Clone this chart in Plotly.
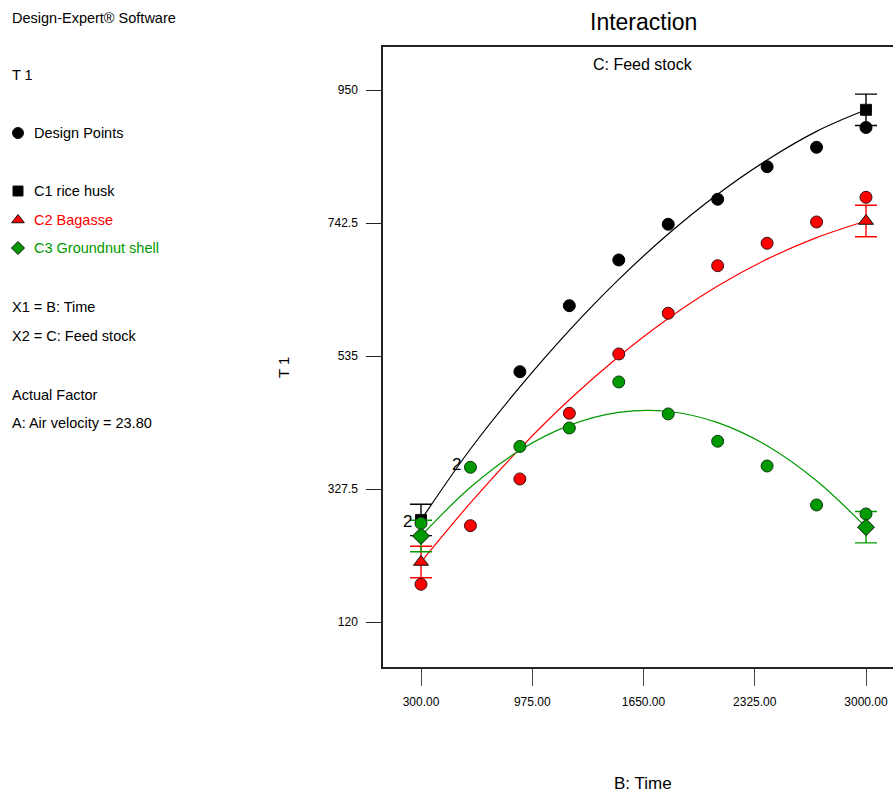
import plotly.graph_objects as go

# ---- data -------------------------------------------------------------
time_levels = [300, 600, 900, 1200, 1500, 1800, 2100, 2400, 2700, 3000]

# design points (T 1) per feed stock
rice_husk_x = [900, 1200, 1500, 1800, 2100, 2400, 2700, 3000]
rice_husk_pts = [510.5, 613.5, 684.8, 740.5, 779.5, 830.3, 860.6, 891.5]
bagasse_pts = [178.9, 270.3, 343.2, 445.7, 538.2, 601.7, 675.9, 710.9, 744.1, 782.6]
groundnut_pts = [274.0, 361.4, 393.9, 422.7, 494.5, 444.6, 402.0, 363.4, 302.6, 288.6]

# model prediction curves (T 1 vs B: Time)
rice_husk_fit = [279.2, 389.9, 486.8, 575.0, 654.5, 725.3, 787.4, 840.8, 885.5, 919.1]
bagasse_fit = [213.6, 305.8, 390.5, 466.7, 534.3, 593.5, 644.1, 686.1, 719.6, 745.6]
groundnut_fit = [254.2, 330.2, 387.9, 426.7, 447.0, 448.4, 431.1, 395.1, 340.4, 267.9]

# LSD bars at the ends of each curve
end_times = [300, 3000]
lsd_half = 24.5

x_ticks = [300, 975, 1650, 2325, 3000]
x_tick_text = ["300.00", "975.00", "1650.00", "2325.00", "3000.00"]
y_ticks = [120, 327.5, 535, 742.5, 950]
y_tick_text = ["120", "327.5", "535", "742.5", "950"]

# ---- styling ----------------------------------------------------------
W, H = 893, 798
FONT = "Liberation Sans, Arial, sans-serif"
BLACK, RED, GREEN = "#000000", "#ff0000", "#009900"

# plot area in pixels
PL, PR, PT, PB = 383, 893, 47, 667

fig = go.Figure()

series = [
    ("C1 rice husk", rice_husk_fit, BLACK, "square", 11),
    ("C2 Bagasse", bagasse_fit, RED, "triangle-up", 13),
    ("C3 Groundnut shell", groundnut_fit, GREEN, "diamond", 13),
]

# fitted curves
for name, fit, col, sym, sz in series:
    fig.add_trace(go.Scatter(
        x=time_levels, y=fit, mode="lines",
        line=dict(color=col, width=1.2, shape="spline", smoothing=1.0),
        showlegend=False, hoverinfo="skip"))

# predicted end points with LSD bars
for name, fit, col, sym, sz in series:
    fig.add_trace(go.Scatter(
        x=end_times, y=[fit[0], fit[-1]], mode="markers",
        marker=dict(symbol=sym, size=sz, color=col,
                    line=dict(color="#111111", width=1)),
        error_y=dict(type="constant", value=lsd_half, color=col,
                     thickness=1.4, width=11),
        showlegend=False, name=name))

# design points
fig.add_trace(go.Scatter(
    x=rice_husk_x, y=rice_husk_pts, mode="markers",
    marker=dict(symbol="circle", size=12, color=BLACK,
                line=dict(color="#000000", width=1)),
    showlegend=False))
fig.add_trace(go.Scatter(
    x=time_levels, y=bagasse_pts, mode="markers",
    marker=dict(symbol="circle", size=12, color=RED,
                line=dict(color="#3a1010", width=1)),
    showlegend=False))
fig.add_trace(go.Scatter(
    x=time_levels, y=groundnut_pts, mode="markers",
    marker=dict(symbol="circle", size=12, color=GREEN,
                line=dict(color="#103a10", width=1)),
    showlegend=False))

# replicate counts
fig.add_annotation(x=221, y=277, xref="x", yref="y", text="2", showarrow=False,
                   font=dict(family=FONT, size=17, color="#000000"))
fig.add_annotation(x=515, y=366, xref="x", yref="y", text="2", showarrow=False,
                   font=dict(family=FONT, size=17, color="#000000"))

# ---- side panel symbols on a pixel-space overlay ----------------------
key_symbols = ["circle", "square", "triangle-up", "diamond"]
key_colors = [BLACK, BLACK, RED, GREEN]
key_rows = [133, 191, 220, 248]
key_sizes = [11, 10, 11, 10]
fig.add_trace(go.Scatter(
    x=[18] * 4, y=key_rows, mode="markers", xaxis="x2", yaxis="y2",
    marker=dict(symbol=key_symbols, size=key_sizes, color=key_colors,
                opacity=1, line=dict(color="#111111", width=1)),
    showlegend=False, hoverinfo="skip"))


def px_x(v):
    return v / W


def px_y(v):
    return 1 - v / H


side_text = [
    ("Design-Expert® Software", 10, 18, "#000000"),
    ("T 1", 10, 75, "#000000"),
    ("Design Points", 32, 133, "#000000"),
    ("C1 rice husk", 32, 191, "#000000"),
    ("C2 Bagasse", 32, 220, RED),
    ("C3 Groundnut shell", 32, 248, GREEN),
    ("X1 = B: Time", 10, 307, "#000000"),
    ("X2 = C: Feed stock", 10, 336, "#000000"),
    ("Actual Factor", 10, 395, "#000000"),
    ("A: Air velocity = 23.80", 10, 423, "#000000"),
]
for txt, x0, y0, col in side_text:
    fig.add_annotation(x=px_x(x0), y=px_y(y0), xref="paper", yref="paper",
                       text=txt, showarrow=False, xanchor="left", yanchor="middle",
                       font=dict(family=FONT, size=14.5, color=col))

# titles
fig.add_annotation(x=px_x(643), y=px_y(22), xref="paper", yref="paper",
                   text="Interaction", showarrow=False, xanchor="center",
                   yanchor="middle", font=dict(family=FONT, size=23, color="#000000"))
fig.add_annotation(x=px_x(643), y=px_y(65), xref="paper", yref="paper",
                   text="C: Feed stock", showarrow=False, xanchor="center",
                   yanchor="middle", font=dict(family=FONT, size=16, color="#000000"))
fig.add_annotation(x=px_x(643), y=px_y(783), xref="paper", yref="paper",
                   text="B: Time", showarrow=False, xanchor="center",
                   yanchor="middle", font=dict(family=FONT, size=17, color="#000000"))
fig.add_annotation(x=px_x(283), y=px_y(368), xref="paper", yref="paper",
                   text="T 1", showarrow=False, textangle=-90, xanchor="center",
                   yanchor="middle", font=dict(family=FONT, size=15, color="#000000"))

# ---- axes --------------------------------------------------------------
x_scale = (866 - 421) / (3000 - 300)
y_scale = (622 - 90) / (950 - 120)
x_lo = 300 - (421 - PL) / x_scale
x_hi = 3000 + (PR - 866) / x_scale
y_lo = 120 - (PB - 622) / y_scale
y_hi = 950 + (90 - PT) / y_scale

fig.update_layout(
    width=W, height=H, autosize=False,
    margin=dict(l=0, r=0, t=0, b=0),
    paper_bgcolor="white", plot_bgcolor="rgba(0,0,0,0)",
    font=dict(family=FONT, color="#000000"),
    xaxis=dict(domain=[PL / W, PR / W], range=[x_lo, x_hi],
               tickmode="array", tickvals=x_ticks, ticktext=x_tick_text,
               ticks="outside", ticklen=17, tickcolor="#444444", tickwidth=1.2,
               ticklabelstandoff=6,
               tickfont=dict(family=FONT, size=12, color="#000000"),
               showline=True, linecolor="#222222", linewidth=1.5, mirror=True,
               showgrid=False, zeroline=False, anchor="y"),
    yaxis=dict(domain=[1 - PB / H, 1 - PT / H], range=[y_lo, y_hi],
               tickmode="array", tickvals=y_ticks, ticktext=y_tick_text,
               ticks="outside", ticklen=15, tickcolor="#222222", tickwidth=1.2,
               ticklabelstandoff=6,
               tickfont=dict(family=FONT, size=12, color="#000000"),
               showline=True, linecolor="#222222", linewidth=1.5,
               showgrid=False, zeroline=False, anchor="x"),
    xaxis2=dict(domain=[0, 1], range=[0, W], visible=False, anchor="y2",
                fixedrange=True),
    yaxis2=dict(domain=[0, 1], range=[H, 0], visible=False, anchor="x2",
                fixedrange=True),
)

fig.write_html("out.html")
